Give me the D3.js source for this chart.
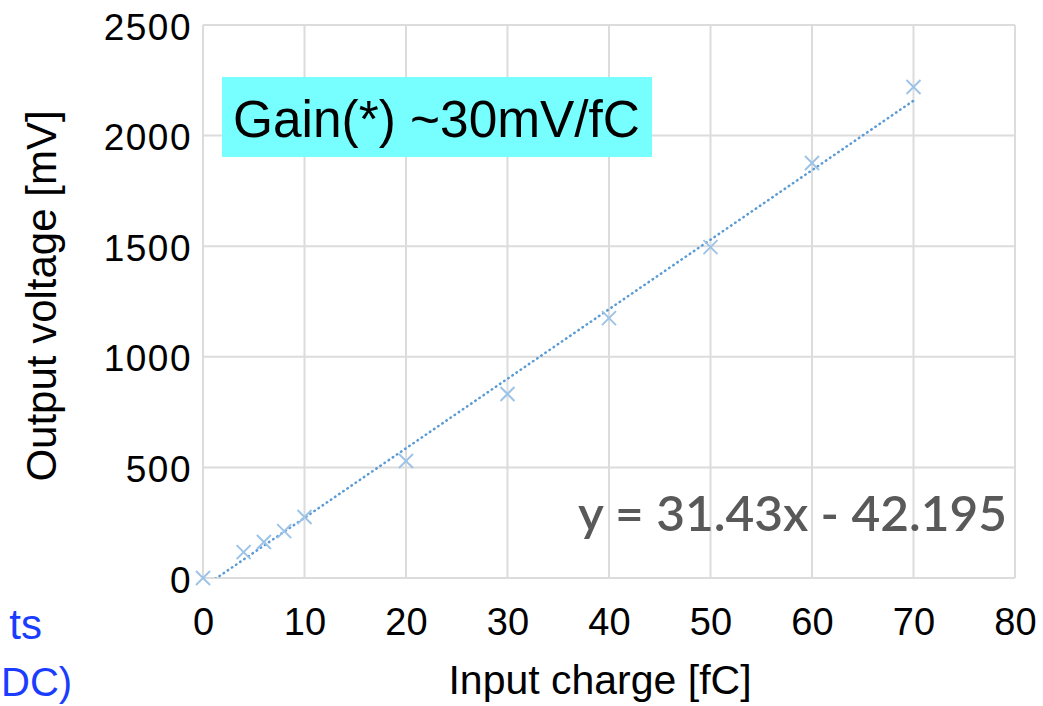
<!DOCTYPE html>
<html>
<head>
<meta charset="utf-8">
<script src="https://cdn.jsdelivr.net/npm/d3@7"></script>
<style>
  body { margin: 0; background: #fff; }
  svg { display: block; }
</style>
</head>
<body>
<div id="chart"></div>
<script>
// measured points (input charge fC -> output voltage mV)
var charge = [0, 4, 6, 8, 10, 20, 30, 40, 50, 60, 70];
var voltage = [0, 117, 163, 212, 276, 529, 832, 1175, 1496, 1876, 2220];
var x_ticks = [0, 10, 20, 30, 40, 50, 60, 70, 80];
var y_ticks = [0, 500, 1000, 1500, 2000, 2500];
var fit_slope = 31.43;
var fit_intercept = -42.195;

var width = 1043, height = 706;
var margin = {top: 25, right: 28, bottom: 128, left: 203};
var plot_w = width - margin.left - margin.right;
var plot_h = height - margin.top - margin.bottom;

var svg = d3.select("#chart").append("svg")
    .attr("width", width)
    .attr("height", height)
    .style("font-family", "'Liberation Sans', Arial, sans-serif");

var g = svg.append("g")
    .attr("transform", "translate(" + margin.left + "," + margin.top + ")");

var x = d3.scaleLinear().domain([0, 80]).range([0, plot_w]);
var y = d3.scaleLinear().domain([0, 2500]).range([plot_h, 0]);

// grid lines
g.append("g").selectAll("line").data(x_ticks).enter().append("line")
    .attr("x1", function(d) { return x(d); })
    .attr("x2", function(d) { return x(d); })
    .attr("y1", 0).attr("y2", plot_h)
    .attr("stroke", "#dcdcdc").attr("stroke-width", 2);
g.append("g").selectAll("line").data(y_ticks).enter().append("line")
    .attr("x1", 0).attr("x2", plot_w)
    .attr("y1", function(d) { return y(d); })
    .attr("y2", function(d) { return y(d); })
    .attr("stroke", "#dcdcdc").attr("stroke-width", 2);

// axes (labels only, Excel style)
var x_axis = g.append("g")
    .attr("transform", "translate(0," + plot_h + ")")
    .call(d3.axisBottom(x).tickValues(x_ticks).tickSize(0).tickPadding(30)
        .tickFormat(d3.format("d")));
x_axis.select(".domain").remove();
x_axis.selectAll("text")
    .attr("font-size", 38).attr("fill", "#000")
    .attr("font-family", "'Liberation Sans', Arial, sans-serif");

var y_axis = g.append("g")
    .call(d3.axisLeft(y).tickValues(y_ticks).tickSize(0).tickPadding(11)
        .tickFormat(d3.format("d")));
y_axis.select(".domain").remove();
y_axis.selectAll("text")
    .attr("font-size", 37).attr("fill", "#000")
    .attr("dy", "0.38em")
    .attr("letter-spacing", 1.5)
    .attr("font-family", "'Liberation Sans', Arial, sans-serif");

// trendline, clipped to the plot area
svg.append("clipPath").attr("id", "plot_clip").append("rect")
    .attr("width", plot_w).attr("height", plot_h);
var fit_x = [0, 70];
g.append("path")
    .datum(fit_x)
    .attr("clip-path", "url(#plot_clip)")
    .attr("d", d3.line()
        .x(function(d) { return x(d); })
        .y(function(d) { return y(fit_slope * d + fit_intercept); }))
    .attr("fill", "none")
    .attr("stroke", "#5b9bd5")
    .attr("stroke-width", 2.5)
    .attr("stroke-linecap", "round")
    .attr("stroke-dasharray", "0.5,4.5");

// cross markers
var s = 7;
var marks = g.append("g").selectAll("g").data(charge).enter().append("g")
    .attr("transform", function(d, i) {
        return "translate(" + x(d) + "," + y(voltage[i]) + ")";
    })
    .attr("stroke", "#9dc3e6").attr("stroke-width", 2);
marks.append("line").attr("x1", -s).attr("y1", -s).attr("x2", s).attr("y2", s);
marks.append("line").attr("x1", -s).attr("y1", s).attr("x2", s).attr("y2", -s);

// equation label
svg.append("text")
    .attr("x", 578).attr("y", 531)
    .attr("font-family", "Lato, 'Open Sans', sans-serif")
    .attr("font-size", 48)
    .attr("font-weight", 600)
    .attr("fill", "#595959")
    .attr("textLength", 429)
    .attr("lengthAdjust", "spacingAndGlyphs")
    .text("y = 31.43x - 42.195");

// gain box
svg.append("rect")
    .attr("x", 222).attr("y", 77).attr("width", 430).attr("height", 80)
    .attr("fill", "#77ffff");
svg.append("text")
    .attr("x", 233).attr("y", 137)
    .attr("font-size", 51)
    .attr("fill", "#000")
    .attr("textLength", 407)
    .attr("lengthAdjust", "spacingAndGlyphs")
    .text("Gain(*) ~30mV/fC");

// axis titles
svg.append("text")
    .attr("x", 600).attr("y", 694)
    .attr("text-anchor", "middle")
    .attr("font-size", 41)
    .text("Input charge [fC]");
svg.append("text")
    .attr("transform", "translate(56,296) rotate(-90)")
    .attr("text-anchor", "middle")
    .attr("font-size", 42)
    .text("Output voltage [mV]");

// blue side note text at the left edge
svg.append("text")
    .attr("x", 42).attr("y", 639)
    .attr("text-anchor", "end")
    .attr("font-size", 42).attr("fill", "#1a3cff")
    .text("ts");
svg.append("text")
    .attr("x", 1).attr("y", 696)
    .attr("font-size", 40).attr("fill", "#1a3cff")
    .text("DC)");
</script>
</body>
</html>
